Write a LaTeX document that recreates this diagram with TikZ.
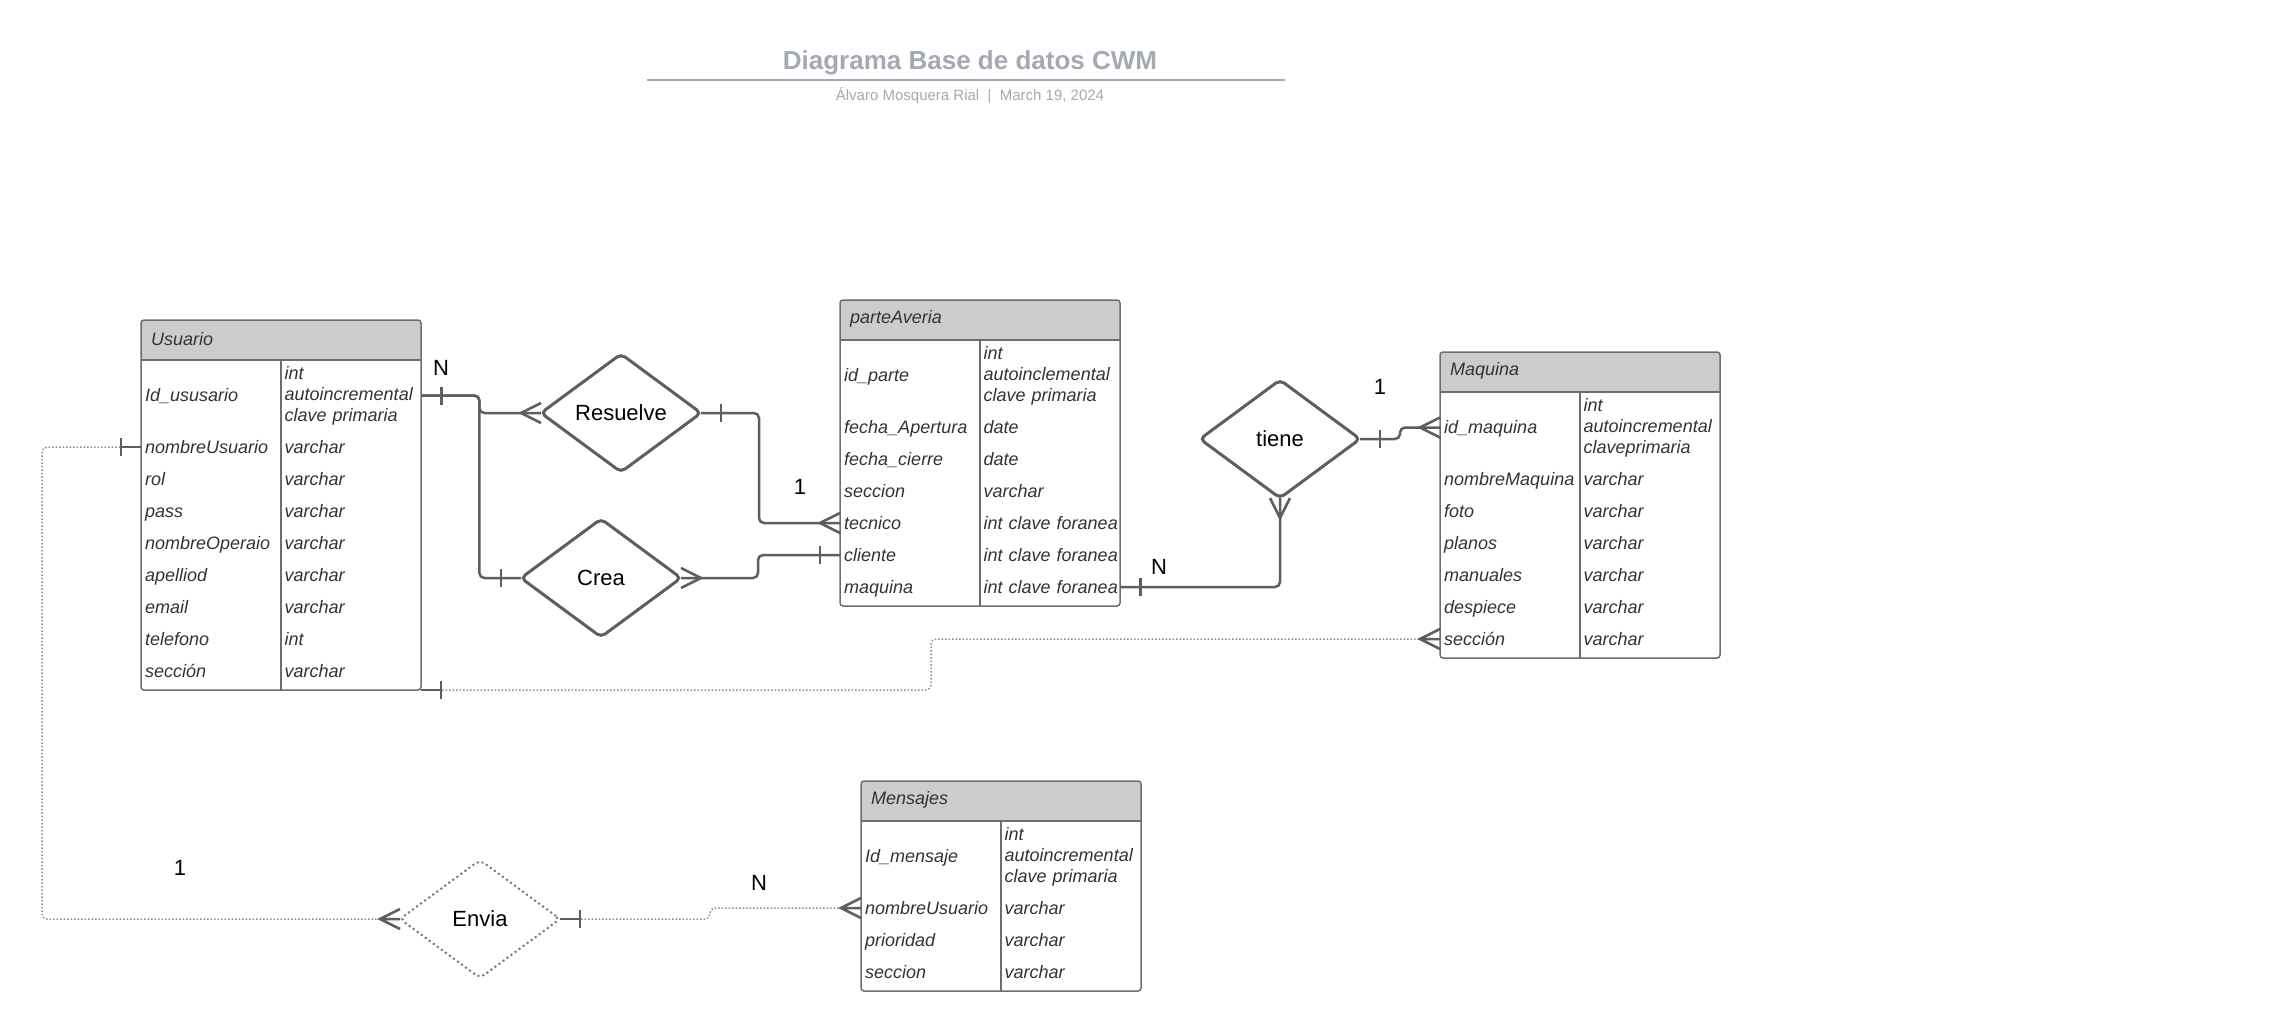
\documentclass[tikz,border=0pt]{standalone}
\usepackage{fontspec}
\setmainfont{Liberation Sans}
\usetikzlibrary{shapes.geometric}

\definecolor{lineGray}{HTML}{5E5E5E}
\definecolor{frameGray}{HTML}{6E6E6E}
\definecolor{hdrGray}{HTML}{CCCCCC}
\definecolor{txtGray}{HTML}{333333}
\definecolor{titleGray}{HTML}{A4A9B4}
\definecolor{dotGray}{HTML}{8C8C8C}

\tikzset{
  tbl/.style={draw=frameGray, line width=1.5pt, rounded corners=3pt, inner sep=0pt, outer sep=0pt,
    anchor=north west, minimum width=280pt,
    path picture={\fill[hdrGray] (path picture bounding box.north west) rectangle ([yshift=-40pt]path picture bounding box.north east);}},
  tblname/.style={anchor=west, inner sep=0pt, text=txtGray, font=\fontsize{18}{21}\selectfont\itshape},
  cell/.style={anchor=west, inner ysep=2pt, align=left, text=txtGray, font=\fontsize{18}{21}\selectfont\itshape},
  fld/.style={cell, text width=132pt, inner xsep=4pt, text height=13pt, text depth=1pt},
  typ/.style={cell, text width=133pt, inner xsep=3.5pt, text height=13pt, text depth=1pt},
  typthree/.style={cell, text width=133pt, inner xsep=3.5pt},
  rel/.style={shape=diamond, draw=lineGray, line width=3pt, rounded corners=5pt, minimum width=160pt,
    minimum height=118pt, inner sep=0pt, outer sep=0pt, font=\fontsize{22}{26}\selectfont},
  conn/.style={draw=lineGray, line width=2.5pt, rounded corners=5pt},
  dotconn/.style={draw=dotGray, line width=1.5pt, dash pattern=on 1.5pt off 2pt, rounded corners=5pt},
  endmk/.style={draw=lineGray, line width=2.5pt},
  cardlbl/.style={font=\fontsize{22}{26}\selectfont}
}

\begin{document}
\begin{tikzpicture}[x=1pt,y=-1pt]
\fill[white] (0,0) rectangle (2281,1031);
\useasboundingbox (0,0) rectangle (2281,1031);

% titulo
\node[font=\fontsize{26}{30}\selectfont\bfseries, text=titleGray] (titulo) at (970,63) {Diagrama Base de datos CWM};
\draw[titleGray, line width=2pt] (647,80) -- (1285,80);
\node[font=\fontsize{15}{18}\selectfont, text=titleGray] (autor) at (970,96) {Álvaro Mosquera Rial\ \ |\ \ March 19, 2024};

% Usuario
\node[tbl, minimum height=370pt] (usuario) at (141,320) {};
\draw[frameGray, line width=1.5pt] (141,360) -- (421,360) (281,360) -- (281,690);
\node[tblname] (usuarioT) at (151,339) {Usuario};
\node[fld] (u1) at (141,395.5) {Id\_ususario}; \node[typthree] (u1t) at (281,395.5) {int\\autoincremental\\clave primaria};
\node[fld] (u2) at (141,447) {nombreUsuario}; \node[typ] (u2t) at (281,447) {varchar};
\node[fld] (u3) at (141,479) {rol};           \node[typ] (u3t) at (281,479) {varchar};
\node[fld] (u4) at (141,511) {pass};          \node[typ] (u4t) at (281,511) {varchar};
\node[fld] (u5) at (141,543) {nombreOperaio}; \node[typ] (u5t) at (281,543) {varchar};
\node[fld] (u6) at (141,575) {apelliod};      \node[typ] (u6t) at (281,575) {varchar};
\node[fld] (u7) at (141,607) {email};         \node[typ] (u7t) at (281,607) {varchar};
\node[fld] (u8) at (141,639) {telefono};      \node[typ] (u8t) at (281,639) {int};
\node[fld] (u9) at (141,671) {sección};       \node[typ] (u9t) at (281,671) {varchar};

% parteAveria
\node[tbl, minimum height=306pt] (parte) at (840,300) {};
\draw[frameGray, line width=1.5pt] (840,340) -- (1120,340) (980,340) -- (980,606);
\node[tblname] (parteT) at (850,319) {parteAveria};
\node[fld] (p1) at (840,375.5) {id\_parte};      \node[typthree] (p1t) at (980,375.5) {int\\autoinclemental\\clave primaria};
\node[fld] (p2) at (840,427) {fecha\_Apertura};  \node[typ] (p2t) at (980,427) {date};
\node[fld] (p3) at (840,459) {fecha\_cierre};    \node[typ] (p3t) at (980,459) {date};
\node[fld] (p4) at (840,491) {seccion};          \node[typ] (p4t) at (980,491) {varchar};
\node[fld] (p5) at (840,523) {tecnico};          \node[typ] (p5t) at (980,523) {\mbox{int clave foranea}};
\node[fld] (p6) at (840,555) {cliente};          \node[typ] (p6t) at (980,555) {\mbox{int clave foranea}};
\node[fld] (p7) at (840,587) {maquina};          \node[typ] (p7t) at (980,587) {\mbox{int clave foranea}};

% Maquina
\node[tbl, minimum height=306pt] (maquina) at (1440,352) {};
\draw[frameGray, line width=1.5pt] (1440,392) -- (1720,392) (1580,392) -- (1580,658);
\node[tblname] (maquinaT) at (1450,371) {Maquina};
\node[fld] (m1) at (1440,427.5) {id\_maquina};   \node[typthree] (m1t) at (1580,427.5) {int\\autoincremental\\claveprimaria};
\node[fld] (m2) at (1440,479) {nombreMaquina};   \node[typ] (m2t) at (1580,479) {varchar};
\node[fld] (m3) at (1440,511) {foto};            \node[typ] (m3t) at (1580,511) {varchar};
\node[fld] (m4) at (1440,543) {planos};          \node[typ] (m4t) at (1580,543) {varchar};
\node[fld] (m5) at (1440,575) {manuales};        \node[typ] (m5t) at (1580,575) {varchar};
\node[fld] (m6) at (1440,607) {despiece};        \node[typ] (m6t) at (1580,607) {varchar};
\node[fld] (m7) at (1440,639) {sección};         \node[typ] (m7t) at (1580,639) {varchar};

% Mensajes
\node[tbl, minimum height=210pt] (mensajes) at (861,781) {};
\draw[frameGray, line width=1.5pt] (861,821) -- (1141,821) (1001,821) -- (1001,991);
\node[tblname] (mensajesT) at (871,800) {Mensajes};
\node[fld] (s1) at (861,856.5) {Id\_mensaje};    \node[typthree] (s1t) at (1001,856.5) {int\\autoincremental\\clave primaria};
\node[fld] (s2) at (861,908) {nombreUsuario};    \node[typ] (s2t) at (1001,908) {varchar};
\node[fld] (s3) at (861,940) {prioridad};        \node[typ] (s3t) at (1001,940) {varchar};
\node[fld] (s4) at (861,972) {seccion};          \node[typ] (s4t) at (1001,972) {varchar};

% relaciones
\node[rel] (resuelve) at (621,413) {Resuelve};
\node[rel] (crea) at (601,578) {Crea};
\node[rel] (tiene) at (1280,439) {tiene};
\node[rel, draw=lineGray!85, line width=2pt, dash pattern=on 2pt off 3pt] (envia) at (480,919) {Envia};

% conectores
\draw[conn] (u1t.east) -- ++(58,0) |- (resuelve.west);
\draw[conn] (u1t.east) -- ++(58,0) |- (crea.west);
\draw[conn] (resuelve.east) -- ++(58,0) |- (p5.west);
\draw[conn] (crea.east) -- ++(77,0) |- (p6.west);
\draw[conn] (p7t.east) -| (tiene.south);
\draw[conn] (tiene.east) -- ++(40,0) |- (m1.west);
\draw[dotconn] (usuario.south east) -- ++(510,0) |- (m7.west);
\draw[dotconn] (u2.west) -- ++(-99,0) |- (envia.west);
\draw[dotconn] (envia.east) -- ++(150,0) |- (s2.west);

% marcas uno
\draw[endmk] ([xshift=20pt,yshift=9pt]u1t.east) -- ([xshift=20pt,yshift=-9pt]u1t.east);
\draw[endmk] ([xshift=-20pt,yshift=9pt]crea.west) -- ([xshift=-20pt,yshift=-9pt]crea.west);
\draw[endmk] ([xshift=20pt,yshift=9pt]resuelve.east) -- ([xshift=20pt,yshift=-9pt]resuelve.east);
\draw[endmk] ([xshift=-20pt,yshift=9pt]p6.west) -- ([xshift=-20pt,yshift=-9pt]p6.west);
\draw[endmk] ([xshift=20pt,yshift=9pt]p7t.east) -- ([xshift=20pt,yshift=-9pt]p7t.east);
\draw[endmk] ([xshift=20pt,yshift=9pt]tiene.east) -- ([xshift=20pt,yshift=-9pt]tiene.east);
\draw[endmk] (usuario.south east) -- ([xshift=20pt]usuario.south east)
  ([xshift=20pt,yshift=9pt]usuario.south east) -- ([xshift=20pt,yshift=-9pt]usuario.south east);
\draw[endmk] (u2.west) -- ([xshift=-20pt]u2.west)
  ([xshift=-20pt,yshift=9pt]u2.west) -- ([xshift=-20pt,yshift=-9pt]u2.west);
\draw[endmk] (envia.east) -- ([xshift=20pt]envia.east)
  ([xshift=20pt,yshift=9pt]envia.east) -- ([xshift=20pt,yshift=-9pt]envia.east);

% marcas muchos
\draw[endmk] ([yshift=10pt]resuelve.west) -- ([xshift=-20pt]resuelve.west) -- ([yshift=-10pt]resuelve.west);
\draw[endmk] ([yshift=10pt]crea.east) -- ([xshift=20pt]crea.east) -- ([yshift=-10pt]crea.east);
\draw[endmk] ([yshift=10pt]p5.west) -- ([xshift=-20pt]p5.west) -- ([yshift=-10pt]p5.west);
\draw[endmk] ([xshift=10pt]tiene.south) -- ([yshift=-20pt]tiene.south) -- ([xshift=-10pt]tiene.south);
\draw[endmk] ([yshift=10pt]m1.west) -- ([xshift=-20pt]m1.west) -- ([yshift=-10pt]m1.west);
\draw[endmk] ([yshift=10pt]m7.west) -- ([xshift=-20pt]m7.west) -- ([yshift=-10pt]m7.west)
  ([xshift=-20pt]m7.west) -- (m7.west);
\draw[endmk] ([yshift=10pt]envia.west) -- ([xshift=-20pt]envia.west) -- ([yshift=-10pt]envia.west)
  ([xshift=-20pt]envia.west) -- (envia.west);
\draw[endmk] ([yshift=10pt]s2.west) -- ([xshift=-20pt]s2.west) -- ([yshift=-10pt]s2.west)
  ([xshift=-20pt]s2.west) -- (s2.west);

% cardinalidades
\node[cardlbl] (cN1) at (441,368) {N};
\node[cardlbl] (c11) at (800,487) {1};
\node[cardlbl] (cN2) at (1159,567) {N};
\node[cardlbl] (c12) at (1380,387) {1};
\node[cardlbl] (c13) at (180,868) {1};
\node[cardlbl] (cN3) at (759,883) {N};
\end{tikzpicture}
\end{document}
